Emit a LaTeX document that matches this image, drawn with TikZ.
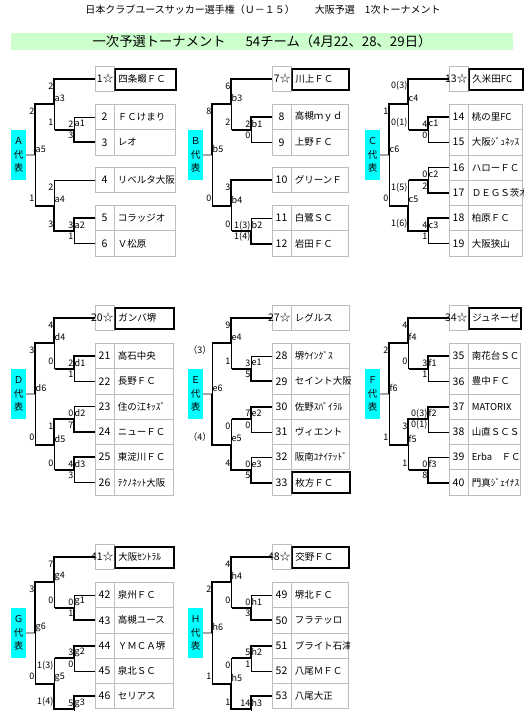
\documentclass[tikz,border=0pt]{standalone}
\usepackage{fontspec}
\setmainfont{Noto Sans CJK JP}
\usetikzlibrary{calc}

\definecolor{repcyan}{HTML}{00FFFF}
\definecolor{bandgreen}{HTML}{CCFFCC}
\definecolor{cellgrey}{HTML}{BDBDBD}

\tikzset{
  win/.style = {line width=2pt},
  lose/.style = {line width=0.8pt},
  nocell/.style = {draw=cellgrey, line width=0.8pt, minimum width=19pt, minimum height=25.3pt, inner sep=0pt},
  numtxt/.style = {inner sep=0pt, font=\fontsize{10.5}{11}\selectfont},
  seeded/.style = {anchor=east, xshift=9pt},
  namecell/.style = {draw=cellgrey, line width=0.8pt, anchor=west, minimum height=25.3pt, text width=\nw pt, inner xsep=3pt, inner ysep=0pt, align=left, font=\fontsize{9.5}{11}\selectfont},
  rep/.style = {draw=black, line width=2pt, minimum height=21pt},
  score/.style = {inner sep=0.5pt, font=\fontsize{9}{10}\selectfont},
  repbox/.style = {fill=repcyan, minimum width=15pt, minimum height=50.6pt, inner sep=0pt, align=center, font=\fontsize{9.5}{13.5}\selectfont}
}

% team row: id, y, number, name, number style, name style
\newcommand{\team}[6]{%
  \node[nocell] (t#1) at (104.5,#2) {};
  \node[numtxt,#5] at (t#1) {#3};
  \begin{scope}
    \clip (t#1.north east) rectangle ++(\nw+7.5,26.2);
    \node[namecell,#6] (n#1) at (t#1.east) {#4};
  \end{scope}
}

% match: [out line] id, x, top in, bottom in, top style, bottom style, top score, bottom score
\newcommand{\duel}[9][win]{%
  \coordinate (#2-a) at (#4 -| #3,0);
  \coordinate (#2-b) at (#5 -| #3,0);
  \coordinate (#2) at ($(#2-a)!.5!(#2-b)$);
  \draw[#6] (#4) -- (#2-a) -- (#2);
  \draw[#7] (#5) -- (#2-b) -- (#2);
  \draw[#1] (#2) -- ++(-19.5,0);
  \node[score, anchor=east, yshift=-7pt] at (#2-a) {#8};
  \node[score, anchor=east, yshift=7pt] at (#2-b) {#9};
  \node[score, anchor=west, yshift=6pt] at (#2) {#2};
}

\begin{document}
\begin{tikzpicture}[x=1pt, y=-1pt]
\useasboundingbox (0,0) rectangle (530,723);
\clip (0,0) rectangle (530,710);

\node[font=\fontsize{10}{12}\selectfont] (head) at (263,10) {日本クラブユースサッカー選手権（Ｕ－１５）　　大阪予選　1次トーナメント};
\node[fill=bandgreen, minimum width=502pt, minimum height=17pt, inner sep=0pt, font=\fontsize{13.3}{15}\selectfont] (title) at (262,41.5) {一次予選トーナメント\hspace{1.5em}54チーム（4月22、28、29日）};

% A
\begin{scope}
  \def\nw{55}
  \team{1}{79}{1☆}{四条畷ＦＣ}{seeded}{rep}
  \team{2}{117}{2}{ＦＣけまり}{}{}
  \team{3}{142.3}{3}{レオ}{}{}
  \team{4}{180.2}{4}{リベルタ大阪}{}{}
  \team{5}{218.2}{5}{コラッジオ}{}{}
  \team{6}{243.5}{6}{Ｖ松原}{}{}
  \duel{a1}{74}{t2}{t3}{lose}{win}{2}{3}
  \duel{a2}{74}{t5}{t6}{win}{lose}{3}{1}
  \duel{a3}{54}{t1}{a1}{win}{lose}{2}{1}
  \duel{a4}{54}{t4}{a2}{lose}{win}{2}{3}
  \duel[draw=none]{a5}{35}{a3}{a4}{win}{lose}{2}{1}
  \node[repbox] (A) at (18.5,154.9) {Ａ\\代\\表};
  \draw[lose] (a5) -- (A);
\end{scope}

% B
\begin{scope}[shift={(177,0)}]
  \def\nw{51}
  \team{7}{79}{7☆}{川上ＦＣ}{seeded}{rep}
  \team{8}{117}{8}{高槻ｍｙｄ}{}{}
  \team{9}{142.3}{9}{上野ＦＣ}{}{}
  \team{10}{180.2}{10}{グリーンＦ}{}{}
  \team{11}{218.2}{11}{白鷺ＳＣ}{}{}
  \team{12}{243.5}{12}{岩田ＦＣ}{}{}
  \duel{b1}{74}{t8}{t9}{win}{lose}{2}{0}
  \duel{b2}{74}{t11}{t12}{lose}{win}{1(3)}{1(4)}
  \duel{b3}{54}{t7}{b1}{win}{lose}{6}{2}
  \duel{b4}{54}{t10}{b2}{win}{lose}{3}{0}
  \duel[draw=none]{b5}{35}{b3}{b4}{win}{lose}{8}{0}
  \node[repbox] (B) at (18.5,154.9) {Ｂ\\代\\表};
  \draw[lose] (b5) -- (B);
\end{scope}

% C
\begin{scope}[shift={(354,0)}]
  \def\nw{48}
  \team{13}{79}{13☆}{久米田FC}{seeded}{rep}
  \team{14}{117}{14}{桃の里FC}{}{}
  \team{15}{142.3}{15}{大阪ｼﾞｭﾈｯｽ}{}{}
  \team{16}{167.6}{16}{ハローＦＣ}{}{}
  \team{17}{192.9}{17}{ＤＥＧＳ茨木}{}{}
  \team{18}{218.2}{18}{柏原ＦＣ}{}{}
  \team{19}{243.5}{19}{大阪狭山}{}{}
  \duel{c1}{74}{t14}{t15}{win}{lose}{4}{0}
  \duel{c2}{74}{t16}{t17}{lose}{win}{0}{2}
  \duel{c3}{74}{t18}{t19}{win}{lose}{4}{1}
  \duel{c4}{54}{t13}{c1}{win}{lose}{0(3)}{0(1)}
  \duel{c5}{54}{c2}{c3}{lose}{win}{1(5)}{1(6)}
  \duel[draw=none]{c6}{35}{c4}{c5}{win}{lose}{1}{0}
  \node[repbox] (C) at (18.5,154.9) {Ｃ\\代\\表};
  \draw[lose] (c6) -- (C);
\end{scope}

% D
\begin{scope}[shift={(0,239)}]
  \def\nw{53}
  \team{20}{79}{20☆}{ガンバ堺}{seeded}{rep}
  \team{21}{117}{21}{高石中央}{}{}
  \team{22}{142.3}{22}{長野ＦＣ}{}{}
  \team{23}{167.6}{23}{住の江ｷｯｽﾞ}{}{}
  \team{24}{192.9}{24}{ニューＦＣ}{}{}
  \team{25}{218.2}{25}{東淀川ＦＣ}{}{}
  \team{26}{243.5}{26}{ﾃｸﾉﾈｯﾄ大阪}{}{}
  \duel{d1}{74}{t21}{t22}{win}{lose}{2}{1}
  \duel{d2}{74}{t23}{t24}{lose}{win}{0}{7}
  \duel{d3}{74}{t25}{t26}{win}{lose}{4}{3}
  \duel{d4}{54}{t20}{d1}{win}{lose}{4}{0}
  \duel{d5}{54}{d2}{d3}{win}{lose}{1}{0}
  \duel[draw=none]{d6}{35}{d4}{d5}{win}{lose}{3}{0}
  \node[repbox] (D) at (18.5,154.9) {Ｄ\\代\\表};
  \draw[lose] (d6) -- (D);
\end{scope}

% E
\begin{scope}[shift={(177,239)}]
  \def\nw{52}
  \team{27}{79}{27☆}{レグルス}{seeded}{}
  \team{28}{117}{28}{堺ｳｲﾝｸﾞｽ}{}{}
  \team{29}{142.3}{29}{セイント大阪}{}{}
  \team{30}{167.6}{30}{佐野ｽﾊﾟｲﾗﾙ}{}{}
  \team{31}{192.9}{31}{ヴィエント}{}{}
  \team{32}{218.2}{32}{阪南ﾕﾅｲﾃｯﾄﾞ}{}{}
  \team{33}{243.5}{33}{枚方ＦＣ}{}{rep}
  \duel{e1}{74}{t28}{t29}{lose}{win}{3}{5}
  \duel{e2}{74}{t30}{t31}{win}{lose}{7}{0}
  \duel{e3}{74}{t32}{t33}{lose}{win}{0}{5}
  \duel{e4}{54}{t27}{e1}{win}{lose}{9}{1}
  \duel{e5}{54}{e2}{e3}{lose}{win}{0}{4}
  \duel[draw=none]{e6}{35}{e4}{e5}{lose}{win}{（3）}{（4）}
  \node[repbox] (E) at (18.5,154.9) {Ｅ\\代\\表};
  \draw[lose] (e6) -- (E);
\end{scope}

% F
\begin{scope}[shift={(354,239)}]
  \def\nw{46}
  \team{34}{79}{34☆}{ジュネーゼ}{seeded}{rep}
  \team{35}{117}{35}{南花台ＳＣ}{}{}
  \team{36}{142.3}{36}{豊中ＦＣ}{}{}
  \team{37}{167.6}{37}{MATORIX}{}{}
  \team{38}{192.9}{38}{山直ＳＣＳ}{}{}
  \team{39}{218.2}{39}{Erba　ＦＣ}{}{}
  \team{40}{243.5}{40}{門真ｼﾞｪｲﾅｽ}{}{}
  \duel{f1}{74}{t35}{t36}{win}{lose}{3}{1}
  \duel{f2}{74}{t37}{t38}{win}{lose}{0(3)}{0(1)}
  \duel{f3}{74}{t39}{t40}{lose}{win}{0}{8}
  \duel{f4}{54}{t34}{f1}{win}{lose}{4}{0}
  \duel{f5}{54}{f2}{f3}{win}{lose}{3}{1}
  \duel[draw=none]{f6}{35}{f4}{f5}{win}{lose}{2}{1}
  \node[repbox] (F) at (18.5,154.9) {Ｆ\\代\\表};
  \draw[lose] (f6) -- (F);
\end{scope}

% G
\begin{scope}[shift={(0,478)}]
  \def\nw{53}
  \team{41}{79}{41☆}{大阪ｾﾝﾄﾗﾙ}{seeded}{rep}
  \team{42}{117}{42}{泉州ＦＣ}{}{}
  \team{43}{142.3}{43}{高槻ユース}{}{}
  \team{44}{167.6}{44}{ＹＭＣＡ堺}{}{}
  \team{45}{192.9}{45}{泉北ＳＣ}{}{}
  \team{46}{218.2}{46}{セリアス}{}{}
  \coordinate (t47) at (95,243.5);
  \duel{g1}{74}{t42}{t43}{lose}{win}{0}{1}
  \duel{g2}{74}{t44}{t45}{win}{lose}{3}{0}
  \duel{g3}{74}{t46}{t47}{win}{lose}{5}{}
  \duel{g4}{54}{t41}{g1}{win}{lose}{7}{0}
  \duel{g5}{54}{g2}{g3}{lose}{win}{1(3)}{1(4)}
  \duel[draw=none]{g6}{35}{g4}{g5}{win}{lose}{3}{0}
  \node[repbox] (G) at (18.5,154.9) {Ｇ\\代\\表};
  \draw[lose] (g6) -- (G);
\end{scope}

% H
\begin{scope}[shift={(177,478)}]
  \def\nw{51}
  \team{48}{79}{48☆}{交野ＦＣ}{seeded}{rep}
  \team{49}{117}{49}{堺北ＦＣ}{}{}
  \team{50}{142.3}{50}{フラテッロ}{}{}
  \team{51}{167.6}{51}{ブライト石津}{}{}
  \team{52}{192.9}{52}{八尾ＭＦＣ}{}{}
  \team{53}{218.2}{53}{八尾大正}{}{}
  \coordinate (t54) at (95,243.5);
  \duel{h1}{74}{t49}{t50}{lose}{win}{0}{3}
  \duel{h2}{74}{t51}{t52}{win}{lose}{5}{1}
  \duel{h3}{74}{t53}{t54}{win}{lose}{14}{}
  \duel{h4}{54}{t48}{h1}{win}{lose}{4}{0}
  \duel{h5}{54}{h2}{h3}{lose}{win}{0}{1}
  \duel[draw=none]{h6}{35}{h4}{h5}{win}{lose}{2}{1}
  \node[repbox] (H) at (18.5,154.9) {Ｈ\\代\\表};
  \draw[lose] (h6) -- (H);
\end{scope}
\end{tikzpicture}
\end{document}
